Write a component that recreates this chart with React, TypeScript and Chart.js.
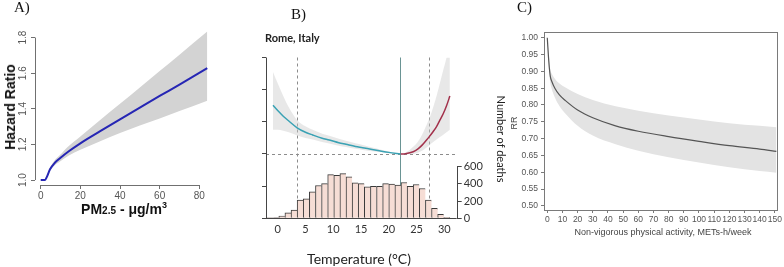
import React, { useEffect, useRef } from "react";
import { Chart, registerables } from "chart.js";

Chart.register(...registerables);

const SANS = '"Liberation Sans", Arial, sans-serif';
const LATO = 'Lato, "Open Sans", sans-serif';
const SERIF = '"Liberation Serif", "Times New Roman", serif';

// ---------------- Panel A : PM2.5 hazard ratio ----------------
const PM_X = [0, 2.2, 3, 4.7, 7, 9.7, 14, 20, 30, 40, 50, 60, 70, 84];
const HR = [1.0, 1.0, 1.015, 1.06, 1.095, 1.122, 1.16, 1.206, 1.274, 1.341, 1.407, 1.472, 1.536, 1.628];
const HR_HI = [1.0, 1.0, 1.02, 1.07, 1.11, 1.14, 1.19, 1.245, 1.337, 1.428, 1.52, 1.612, 1.704, 1.834];
const HR_LO = [1.0, 1.0, 1.011, 1.052, 1.082, 1.104, 1.136, 1.17, 1.218, 1.264, 1.306, 1.346, 1.387, 1.445];
const PM_TICKS = [0, 20, 40, 60, 80];
const HR_TICKS = [1.0, 1.2, 1.4, 1.6, 1.8];

// ---------------- Panel B : Rome temperature ----------------
const TEMP_CURVE = [-0.85, 0, 1, 2, 3.5, 5, 6.3, 8, 9.3, 11, 12.3, 14, 15.3, 17, 18.3, 20, 22.1, 23, 24.4, 25.2, 26, 26.8, 27.3, 28, 28.6, 29.2, 29.8, 30.4, 31.0];
const RR = [1.303, 1.27, 1.235, 1.205, 1.163, 1.135, 1.118, 1.098, 1.087, 1.07, 1.06, 1.047, 1.039, 1.028, 1.02, 1.01, 1.0, 1.002, 1.014, 1.03, 1.055, 1.087, 1.108, 1.14, 1.17, 1.21, 1.25, 1.3, 1.36];
const RR_HI = [1.51, 1.44, 1.36, 1.29, 1.21, 1.172, 1.15, 1.126, 1.114, 1.095, 1.082, 1.066, 1.056, 1.04, 1.03, 1.016, 1.0, 1.008, 1.045, 1.075, 1.12, 1.18, 1.22, 1.29, 1.36, 1.44, 1.52, 1.6, 1.7];
const RR_LO = [1.15, 1.15, 1.145, 1.135, 1.115, 1.1, 1.09, 1.075, 1.065, 1.051, 1.043, 1.032, 1.025, 1.017, 1.012, 1.005, 1.0, 0.998, 1.0, 1.008, 1.02, 1.04, 1.055, 1.075, 1.09, 1.105, 1.12, 1.135, 1.15];
const MMT = 22.1;
const DASHED_TEMPS = [3.5, 27.3];
const TEMP_BINS = [-1.45, -0.35, 0.75, 1.85, 2.95, 4.05, 5.15, 6.25, 7.35, 8.45, 9.55, 10.65, 11.75, 12.85, 13.95, 15.05, 16.15, 17.25, 18.35, 19.45, 20.55, 21.65, 22.75, 23.85, 24.95, 26.05, 27.15, 28.25, 29.35, 30.45];
const DEATHS = [3, 8, 27, 65, 96, 212, 227, 308, 381, 404, 508, 500, 520, 481, 412, 404, 366, 373, 373, 404, 397, 385, 416, 373, 393, 347, 212, 115, 46, 12];
const TEMP_TICKS = [0, 5, 10, 15, 20, 25, 30];
const RR_TICKS = [0.6, 0.8, 1.0, 1.2, 1.4, 1.6];
const DEATH_TICKS = [0, 200, 400, 600];

// ---------------- Panel C : physical activity ----------------
const MET_X = [0, 1, 2, 3, 5, 8, 12, 20, 30, 45, 60, 80, 100, 120, 140, 151];
const C_RR = [1.0, 0.93, 0.885, 0.87, 0.85, 0.83, 0.813, 0.785, 0.762, 0.738, 0.722, 0.706, 0.692, 0.679, 0.669, 0.662];
const C_HI = [1.0, 0.95, 0.905, 0.893, 0.878, 0.864, 0.852, 0.833, 0.815, 0.796, 0.783, 0.769, 0.757, 0.746, 0.738, 0.734];
const C_LO = [1.0, 0.91, 0.865, 0.847, 0.822, 0.797, 0.774, 0.738, 0.709, 0.683, 0.664, 0.645, 0.629, 0.615, 0.604, 0.599];
const MET_TICKS = [0, 10, 20, 30, 40, 50, 60, 70, 80, 90, 100, 110, 120, 130, 140, 150];
const C_Y_TICKS = [0.5, 0.55, 0.6, 0.65, 0.7, 0.75, 0.8, 0.85, 0.9, 0.95, 1.0];

const pts = (xs: number[], ys: number[]) => xs.map((x, i) => ({ x, y: ys[i] }));
const setTicks = (vals: number[]) => (s: any) => {
  s.ticks = vals.map((v) => ({ value: v }));
};
const crisp = (v: number) => Math.round(v) + 0.5;
function seg(ctx: CanvasRenderingContext2D, x1: number, y1: number, x2: number, y2: number) {
  ctx.beginPath();
  ctx.moveTo(x1, y1);
  ctx.lineTo(x2, y2);
  ctx.stroke();
}

const common = {
  animation: false as const,
  responsive: false,
  maintainAspectRatio: false,
  events: [] as any[],
  plugins: { legend: { display: false }, tooltip: { enabled: false } },
};

// ---------- config A ----------
function makeA(): any {
  const axesPlugin = {
    id: "axesA",
    afterDraw(chart: any) {
      const { ctx, chartArea: a, scales } = chart;
      const { x, y } = scales;
      ctx.save();
      ctx.strokeStyle = "#707070";
      ctx.lineWidth = 1;
      const lx = crisp(a.left);
      seg(ctx, lx, y.getPixelForValue(HR_TICKS[0]), lx, y.getPixelForValue(HR_TICKS[HR_TICKS.length - 1]));
      const by = crisp(a.bottom);
      seg(ctx, x.getPixelForValue(PM_TICKS[0]), by, x.getPixelForValue(PM_TICKS[PM_TICKS.length - 1]), by);
      ctx.fillStyle = "#555";
      ctx.font = `10px ${SANS}`;
      ctx.textAlign = "center";
      ctx.textBaseline = "middle";
      y.ticks.forEach((t: any) => {
        ctx.save();
        ctx.translate(a.left - 12, y.getPixelForValue(t.value));
        ctx.rotate(-Math.PI / 2);
        ctx.fillText(Number(t.value).toFixed(1), 0, 0);
        ctx.restore();
      });
      ctx.restore();
    },
  };
  return {
    type: "line",
    data: {
      datasets: [
        { data: pts(PM_X, HR), borderColor: "#2626b4", borderWidth: 2, pointRadius: 0, fill: false, cubicInterpolationMode: "monotone", order: 0 },
        { data: pts(PM_X, HR_HI), borderWidth: 0, pointRadius: 0, fill: "+1", backgroundColor: "#d3d3d3", cubicInterpolationMode: "monotone", order: 2 },
        { data: pts(PM_X, HR_LO), borderWidth: 0, pointRadius: 0, fill: false, cubicInterpolationMode: "monotone", order: 3 },
      ],
    },
    options: {
      ...common,
      layout: { padding: { left: 0, top: 26, right: 20.8, bottom: 0 } },
      scales: {
        x: {
          type: "linear",
          min: -2.875,
          max: 87.5,
          afterBuildTicks: setTicks(PM_TICKS),
          afterFit: (s: any) => { s.height = 82; },
          grid: { drawOnChartArea: false, drawTicks: true, tickLength: 4, color: "#707070" },
          border: { display: false },
          ticks: { font: { family: SANS, size: 10 }, color: "#555", padding: 1, maxRotation: 0, autoSkip: false },
        },
        y: {
          type: "linear",
          min: 0.972,
          max: 1.865,
          afterBuildTicks: setTicks(HR_TICKS),
          afterFit: (s: any) => { s.width = 35; },
          grid: { drawOnChartArea: false, drawTicks: true, tickLength: 4, color: "#707070" },
          border: { display: false },
          ticks: { display: false },
        },
      },
    },
    plugins: [axesPlugin],
  };
}

// ---------- config B ----------
function makeB(): any {
  const idxL = TEMP_CURVE.map((t, i) => i).filter((i) => TEMP_CURVE[i] <= MMT);
  const idxR = TEMP_CURVE.map((t, i) => i).filter((i) => TEMP_CURVE[i] >= MMT);
  const refPlugin = {
    id: "refB",
    beforeDatasetsDraw(chart: any) {
      const { ctx, chartArea: a, scales } = chart;
      const { x, y } = scales;
      ctx.save();
      ctx.lineWidth = 1;
      ctx.strokeStyle = "#8c8c8c";
      ctx.setLineDash([3, 3]);
      const hy = crisp(y.getPixelForValue(1));
      seg(ctx, a.left, hy, a.right, hy);
      DASHED_TEMPS.forEach((t) => {
        const px = crisp(x.getPixelForValue(t));
        seg(ctx, px, a.top, px, a.bottom);
      });
      ctx.setLineDash([]);
      ctx.strokeStyle = "#6a9494";
      const mx = crisp(x.getPixelForValue(MMT));
      seg(ctx, mx, a.top, mx, a.bottom);
      ctx.restore();
    },
    afterDatasetsDraw(chart: any) {
      const { ctx, chartArea: a, scales } = chart;
      const { y, y2 } = scales;
      ctx.save();
      ctx.lineWidth = 1;
      ctx.strokeStyle = "#454545";
      const lx = crisp(a.left);
      seg(ctx, lx, y.getPixelForValue(RR_TICKS[0]), lx, y.getPixelForValue(RR_TICKS[RR_TICKS.length - 1]));
      const by = crisp(a.bottom);
      seg(ctx, a.left - 4, by, a.right, by);
      const rx = crisp(a.right);
      seg(ctx, rx, y2.getPixelForValue(DEATH_TICKS[0]), rx, y2.getPixelForValue(DEATH_TICKS[DEATH_TICKS.length - 1]));
      ctx.restore();
    },
  };
  const last = DEATHS.length - 1;
  return {
    type: "bar",
    data: {
      datasets: [
        { type: "line", data: idxL.map((i) => ({ x: TEMP_CURVE[i], y: RR[i] })), yAxisID: "y", borderColor: "#3aa2b4", borderWidth: 1.5, pointRadius: 0, fill: false, cubicInterpolationMode: "monotone", order: 0 },
        { type: "line", data: idxR.map((i) => ({ x: TEMP_CURVE[i], y: RR[i] })), yAxisID: "y", borderColor: "#a3324c", borderWidth: 1.5, pointRadius: 0, fill: false, cubicInterpolationMode: "monotone", order: 0 },
        { type: "line", data: pts(TEMP_CURVE, RR_HI), yAxisID: "y", borderWidth: 0, pointRadius: 0, fill: "+1", backgroundColor: "rgba(200,200,200,0.42)", cubicInterpolationMode: "monotone", order: 3 },
        { type: "line", data: pts(TEMP_CURVE, RR_LO), yAxisID: "y", borderWidth: 0, pointRadius: 0, fill: false, cubicInterpolationMode: "monotone", order: 4 },
        {
          type: "bar",
          data: pts(TEMP_BINS, DEATHS),
          yAxisID: "y2",
          backgroundColor: "#f6ddd5",
          borderColor: "#3a3a3a",
          borderWidth: (c: any) => ({ top: 1, left: 1, bottom: 0, right: c.dataIndex === last ? 1 : 0 }),
          borderSkipped: false,
          barPercentage: 1,
          categoryPercentage: 1,
          order: 1,
        },
      ],
    },
    options: {
      ...common,
      layout: { padding: { left: 0, top: 57.5, right: 0, bottom: 0 } },
      scales: {
        x: {
          type: "linear",
          offset: false,
          min: -2.107,
          max: 32.23,
          afterBuildTicks: setTicks(TEMP_TICKS),
          afterFit: (s: any) => { s.height = 48.7; },
          grid: { drawOnChartArea: false, drawTicks: false, offset: false },
          border: { display: false },
          ticks: { font: { family: LATO, size: 11 }, color: "#333", padding: 5, maxRotation: 0, autoSkip: false },
        },
        y: {
          type: "linear",
          position: "left",
          min: 0.6,
          max: 1.6,
          afterBuildTicks: setTicks(RR_TICKS),
          afterFit: (s: any) => { s.width = 31; },
          grid: { drawOnChartArea: false, drawTicks: true, tickLength: 4, color: "#454545" },
          border: { display: false },
          ticks: { display: false },
        },
        y2: {
          type: "linear",
          position: "right",
          min: 0,
          max: 1870,
          afterBuildTicks: setTicks(DEATH_TICKS),
          afterFit: (s: any) => { s.width = 28.3; },
          grid: { drawOnChartArea: false, drawTicks: true, tickLength: 5, color: "#454545" },
          border: { display: false },
          ticks: { font: { family: LATO, size: 11 }, color: "#333", padding: 2 },
        },
      },
    },
    plugins: [refPlugin],
  };
}

// ---------- config C ----------
function makeC(): any {
  const frame = {
    id: "frameC",
    afterDraw(chart: any) {
      const { ctx, chartArea: a } = chart;
      ctx.save();
      ctx.strokeStyle = "#7a7a7a";
      ctx.lineWidth = 1;
      ctx.strokeRect(crisp(a.left), crisp(a.top), Math.round(a.right) - Math.round(a.left), Math.round(a.bottom) - Math.round(a.top));
      ctx.restore();
    },
  };
  return {
    type: "line",
    data: {
      datasets: [
        { data: pts(MET_X, C_RR), borderColor: "#555", borderWidth: 1.2, pointRadius: 0, fill: false, cubicInterpolationMode: "monotone", order: 0 },
        { data: pts(MET_X, C_HI), borderWidth: 0, pointRadius: 0, fill: "+1", backgroundColor: "#e3e3e3", cubicInterpolationMode: "monotone", order: 2 },
        { data: pts(MET_X, C_LO), borderWidth: 0, pointRadius: 0, fill: false, cubicInterpolationMode: "monotone", order: 3 },
      ],
    },
    options: {
      ...common,
      layout: { padding: { left: 0, top: 32.3, right: 4.7, bottom: 0 } },
      scales: {
        x: {
          type: "linear",
          min: -2.16,
          max: 151.7,
          afterBuildTicks: setTicks(MET_TICKS),
          afterFit: (s: any) => { s.height = 57; },
          grid: { drawOnChartArea: false, drawTicks: true, tickLength: 3, color: "#7a7a7a" },
          border: { display: false },
          ticks: { font: { family: SANS, size: 8.5 }, color: "#555", padding: 2, maxRotation: 0, autoSkip: false },
        },
        y: {
          type: "linear",
          min: 0.488,
          max: 1.016,
          afterBuildTicks: setTicks(C_Y_TICKS),
          afterFit: (s: any) => { s.width = 44; },
          grid: { drawOnChartArea: false, drawTicks: true, tickLength: 3, color: "#7a7a7a" },
          border: { display: false },
          ticks: { font: { family: SANS, size: 8.5 }, color: "#555", padding: 3, callback: (v: any) => Number(v).toFixed(2) },
        },
      },
    },
    plugins: [frame],
  };
}

function ChartBox({ left, top, width, height, make }: { left: number; top: number; width: number; height: number; make: () => any }) {
  const ref = useRef<HTMLCanvasElement | null>(null);
  useEffect(() => {
    if (!ref.current) return;
    const chart = new Chart(ref.current, make());
    return () => chart.destroy();
  }, []);
  return <canvas ref={ref} width={width} height={height} style={{ position: "absolute", left, top, width, height }} />;
}

function Txt({ x, y, rot = 0, style, children }: { x: number; y: number; rot?: number; style: React.CSSProperties; children: React.ReactNode }) {
  return (
    <div
      style={{
        position: "absolute",
        left: x,
        top: y,
        transform: `translate(-50%, -50%) rotate(${rot}deg)`,
        whiteSpace: "nowrap",
        lineHeight: 1,
        ...style,
      }}
    >
      {children}
    </div>
  );
}

export default function App() {
  return (
    <div style={{ position: "absolute", left: 0, top: 0, width: 784, height: 267, overflow: "hidden", background: "#fff" }}>
      <ChartBox left={0} top={0} width={235} height={267} make={makeA} />
      <ChartBox left={235} top={0} width={250} height={267} make={makeB} />
      <ChartBox left={500} top={0} width={284} height={267} make={makeC} />

      <div style={{ position: "absolute", left: 14, top: 0, font: `15px ${SERIF}`, lineHeight: "15px", color: "#111" }}>A)</div>
      <div style={{ position: "absolute", left: 291, top: 7, font: `15px ${SERIF}`, lineHeight: "15px", color: "#111" }}>B)</div>
      <div style={{ position: "absolute", left: 517, top: 0, font: `15px ${SERIF}`, lineHeight: "15px", color: "#111" }}>C)</div>

      <Txt x={10} y={107} rot={-90} style={{ font: `bold 14px ${SANS}`, color: "#111" }}>Hazard Ratio</Txt>
      <Txt x={124} y={208} style={{ font: `bold 14px ${SANS}`, color: "#111" }}>
        PM<span style={{ fontSize: 10 }}>2.5</span> - μg/m<sup style={{ fontSize: 9, verticalAlign: 6 }}>3</sup>
      </Txt>

      <div style={{ position: "absolute", left: 265, top: 32, font: `bold 11px ${LATO}`, lineHeight: "12px", color: "#222" }}>Rome, Italy</div>
      <Txt x={359} y={258} style={{ font: `14px ${LATO}`, color: "#222" }}>Temperature (°C)</Txt>
      <Txt x={501} y={139} rot={90} style={{ font: `11px ${LATO}`, color: "#222" }}>Number of deaths</Txt>

      <Txt x={514} y={123} rot={-90} style={{ font: `9px ${SANS}`, color: "#444" }}>RR</Txt>
      <Txt x={663} y={232} style={{ font: `9px ${SANS}`, color: "#444" }}>Non-vigorous physical activity, METs-h/week</Txt>
    </div>
  );
}
